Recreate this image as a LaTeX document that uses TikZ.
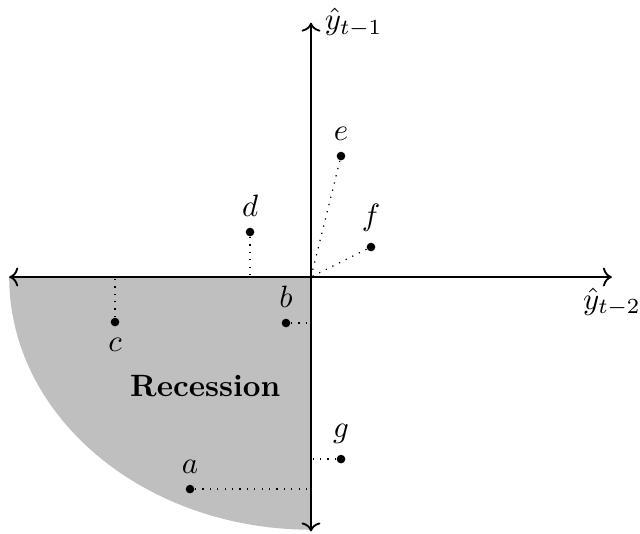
\documentclass[tikz,border=0pt]{standalone}
\usepackage{amsmath}
\usepackage{xcolor}
\usepackage{tikz}
\usetikzlibrary{arrows.meta}
\definecolor{rgray}{HTML}{BFBFBF}

\begin{document}
\begin{tikzpicture}[
  pt/.style={circle, fill=black, inner sep=0pt, minimum size=2.8pt},
  proj/.style={dotted, thin},
  axis/.style={semithick, ->}]
\useasboundingbox (-3.545,-2.918) rectangle (3.750,3.158);
\coordinate (O) at (0,0);
\coordinate (xl) at (-3.44,0);
\coordinate (xr) at (3.43,0);
\coordinate (yb) at (0,-2.90);
\coordinate (yt) at (0,2.90);
% recession region
\fill[rgray] (O) -- (xl) arc[start angle=180, end angle=270, x radius=3.44, y radius=2.88] -- cycle;
\node[font=\bfseries] (rec) at (-1.205,-1.239) {Recession};
% observations
\node[pt, label=above:$a$] (a) at (-1.379,-2.417) {};
\node[pt, label=above:$b$] (b) at (-0.285,-0.524) {};
\node[pt, label=below:$c$] (c) at (-2.234,-0.513) {};
\node[pt, label=above:$d$] (d) at (-0.695,0.513) {};
\node[pt, label=above:$e$] (e) at (0.342,1.379) {};
\node[pt, label=above:$f$] (f) at (0.684,0.342) {};
\node[pt, label=above:$g$] (g) at (0.342,-2.075) {};
\draw[proj] (a) -- (a -| O);
\draw[proj] (b) -- (b -| O);
\draw[proj] (g) -- (g -| O);
\draw[proj] (c) -- (c |- O);
\draw[proj] (d) -- (d |- O);
\draw[proj] (e) -- (O);
\draw[proj] (f) -- (O);
% axes
\draw[axis] (O) -- (xl);
\draw[axis] (O) -- (xr);
\draw[axis] (O) -- (yb);
\draw[axis] (O) -- (yt);
\node[right=1pt] (ylab) at (yt) {$\hat{y}_{t-1}$};
\node[below] (xlab) at (xr) {$\hat{y}_{t-2}$};
\end{tikzpicture}
\end{document}
